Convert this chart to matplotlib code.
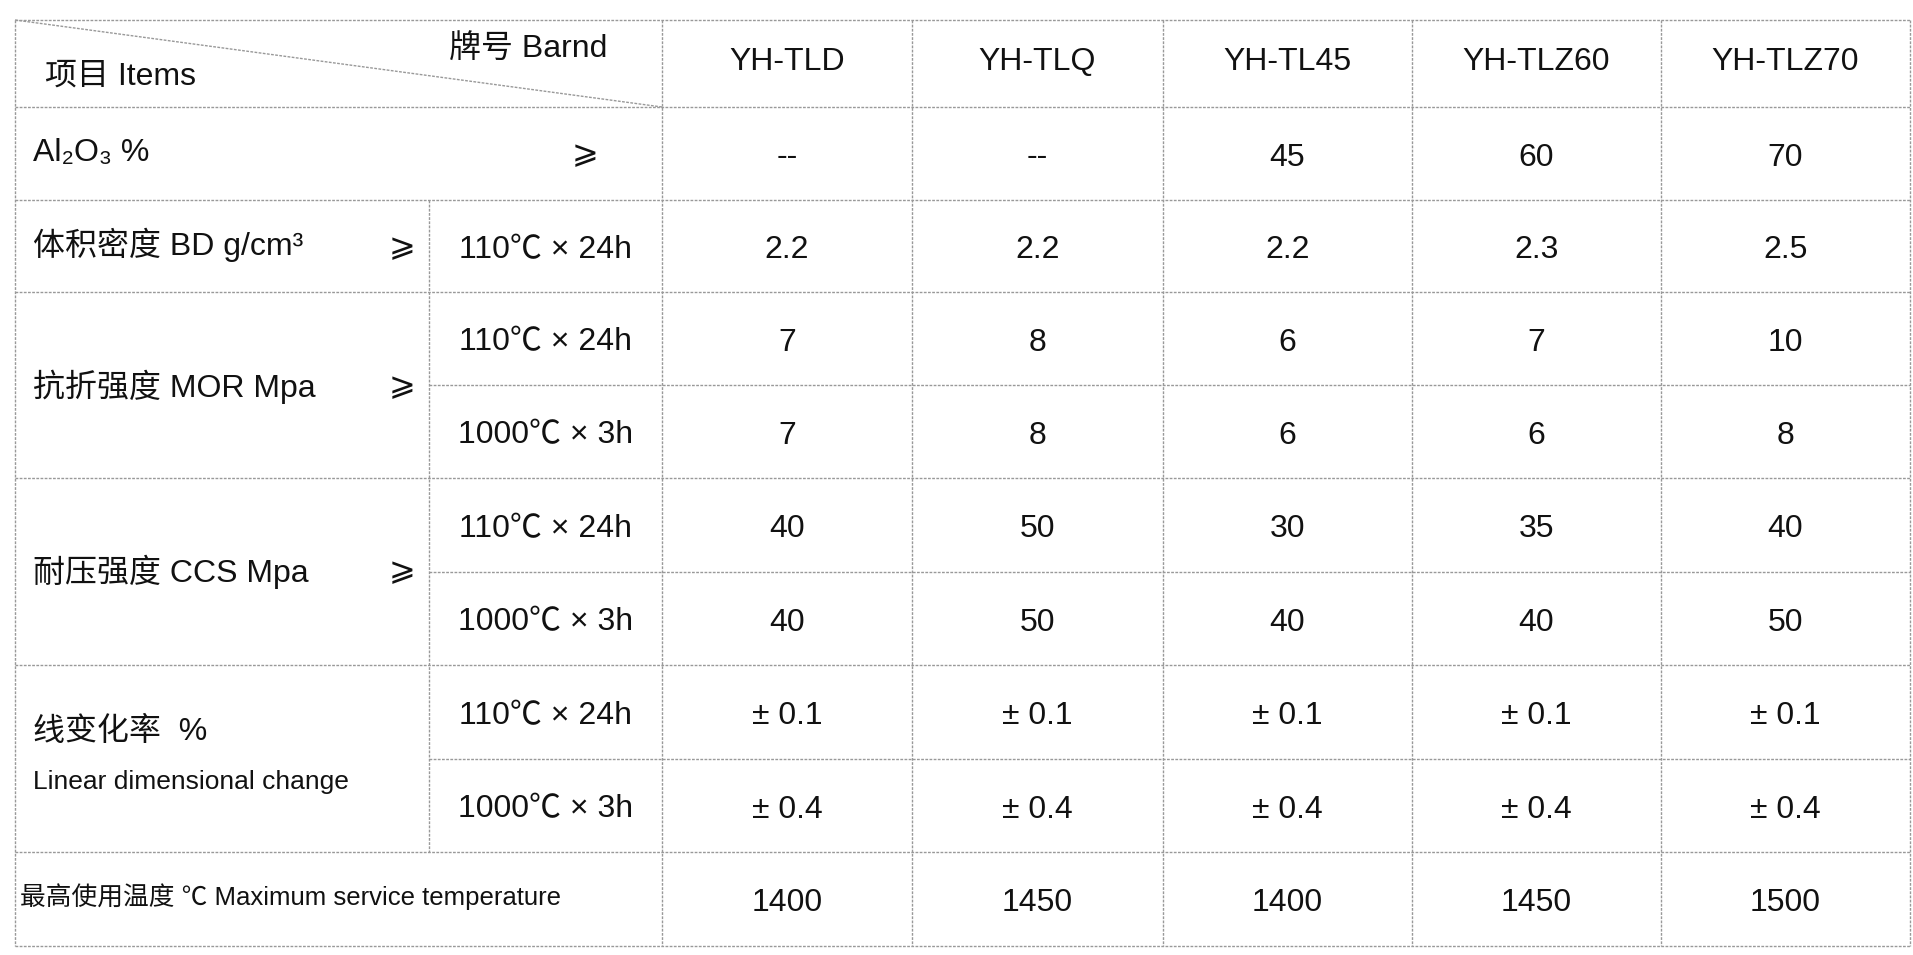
import matplotlib
matplotlib.use("Agg")
import matplotlib.pyplot as plt

plt.rcParams['font.family'] = ['Liberation Sans', 'Noto Sans CJK SC', 'DejaVu Sans']

brands = ["YH-TLD", "YH-TLQ", "YH-TL45", "YH-TLZ60", "YH-TLZ70"]
al2o3 = ["--", "--", "45", "60", "70"]
bd = ["2.2", "2.2", "2.2", "2.3", "2.5"]
mor_110 = ["7", "8", "6", "7", "10"]
mor_1000 = ["7", "8", "6", "6", "8"]
ccs_110 = ["40", "50", "30", "35", "40"]
ccs_1000 = ["40", "50", "40", "40", "50"]
pld_110 = ["± 0.1"] * 5
pld_1000 = ["± 0.4"] * 5
max_temp = ["1400", "1450", "1400", "1450", "1500"]

W, H = 1913, 955
fig = plt.figure(figsize=(W / 100, H / 100), dpi=100)
ax = fig.add_axes([0, 0, 1, 1])
ax.set_xlim(0, W)
ax.set_ylim(H, 0)
ax.axis('off')

xl, xs, xd, xr = 15, 429, 662, 1910
colx = [662, 912, 1163, 1412, 1661, 1910]
rows = [20, 107, 200, 292, 385, 478, 572, 665, 759, 852, 946]
lc = dict(color='#999999', lw=1.0, ls=(0, (2, 1)))

for i, y in enumerate(rows):
    x0 = xs if i in (4, 6, 8) else xl
    ax.plot([x0, xr], [y, y], **lc)
ax.plot([xl, xl], [rows[0], rows[-1]], **lc)
ax.plot([xs, xs], [rows[2], rows[9]], **lc)
for x in colx:
    ax.plot([x, x], [rows[0], rows[-1]], **lc)
ax.plot([xl, xd], [rows[0], rows[1]], **lc)

fs = 23
tk = dict(fontsize=fs, color='#111111')
ax.text(45, 77, "项目 Items", va='center', ha='left', **tk)
ax.text(449, 50, "牌号 Barnd", va='center', ha='left', **tk)
for j, b in enumerate(brands):
    ax.text((colx[j] + colx[j + 1]) / 2, 62, b, ha='center', va='center', **tk)

ax.text(33, 153, "Al₂O₃ %", va='center', ha='left', **tk)
ax.text(585, 155, "⩾", va='center', ha='center', **tk)
ax.text(33, 245, "体积密度 BD g/cm³", va='center', ha='left', **tk)
ax.text(402, 248, "⩾", va='center', ha='center', **tk)
ax.text(33, 387, "抗折强度 MOR Mpa", va='center', ha='left', **tk)
ax.text(402, 387, "⩾", va='center', ha='center', **tk)
ax.text(33, 572, "耐压强度 CCS Mpa", va='center', ha='left', **tk)
ax.text(402, 572, "⩾", va='center', ha='center', **tk)
ax.text(33, 732, "线变化率  %", va='center', ha='left', **tk)
ax.text(33, 782, "Linear dimensional change", va='center', ha='left', fontsize=19, color='#111111')
ax.text(20, 897, "最高使用温度 ℃ Maximum service temperature", va='center', ha='left',
        fontsize=18.5, color='#111111')

subs = [(2, "110℃ × 24h"), (3, "110℃ × 24h"), (4, "1000℃ × 3h"),
        (5, "110℃ × 24h"), (6, "1000℃ × 3h"), (7, "110℃ × 24h"), (8, "1000℃ × 3h")]
for r, s in subs:
    ax.text((xs + xd) / 2, (rows[r] + rows[r + 1]) / 2 + 4, s, ha='center', va='center', **tk)

data_rows = [(1, al2o3), (2, bd), (3, mor_110), (4, mor_1000), (5, ccs_110),
             (6, ccs_1000), (7, pld_110), (8, pld_1000), (9, max_temp)]
for r, vals in data_rows:
    yc = (rows[r] + rows[r + 1]) / 2 + 4
    for j, v in enumerate(vals):
        ax.text((colx[j] + colx[j + 1]) / 2, yc, v, ha='center', va='center', **tk)

fig.savefig("out.png", dpi=100, facecolor='white')
